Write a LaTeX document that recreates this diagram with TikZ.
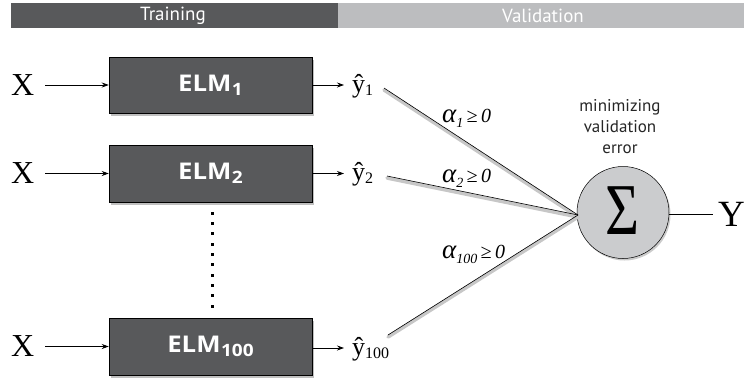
\documentclass[tikz,border=0pt]{standalone}
\usepackage{fontspec}
\setmainfont{Liberation Serif}
\newfontfamily\uisans{Open Sans}
\newfontfamily\barsans{PT Sans}
\usetikzlibrary{shadows,arrows.meta}
\definecolor{elmgray}{HTML}{58595B}
\definecolor{barlight}{HTML}{BCBDBF}
\definecolor{sumgray}{HTML}{CBCCCE}
\newcommand{\elmlab}[1]{\scalebox{1.12}[1]{ELM\kern0.5pt\raisebox{-4pt}{\fontsize{17}{17}\selectfont #1}}}
\newcommand{\yhatlab}[1]{\^{y}\raisebox{-3pt}{\fontsize{16}{16}\selectfont #1}}
\newcommand{\alab}[1]{{\fontsize{27}{27}\selectfont α}\raisebox{-5pt}{\fontsize{14}{14}\selectfont #1}\,≥\,0}
\tikzset{
  elmbox/.style={draw=black, line width=0.5pt, fill=elmgray, minimum width=203pt, minimum height=56.5pt, inner sep=0pt,
    drop shadow={shadow xshift=2pt, shadow yshift=-3pt, fill=black!45, opacity=0.55},
    text=white, font=\uisans\bfseries\fontsize{23}{26}\selectfont},
  xlab/.style={font=\fontsize{32}{33}\selectfont, inner sep=0pt, anchor=base west},
  ylab/.style={font=\fontsize{26}{28}\selectfont, inner sep=0pt, anchor=base west},
  arr/.style={-{Stealth[length=7pt,width=5pt]}, line width=0.8pt},
  shline/.style={line width=0.6pt},
  shadowline/.style={line width=3.5pt, draw=black!22, line cap=round},
  alabel/.style={font=\itshape\fontsize{20}{22}\selectfont, inner sep=0pt, anchor=base west},
  bartext/.style={font=\barsans\fontsize{19}{20}\selectfont, text=white}
}
\begin{document}
\begin{tikzpicture}[x=1pt,y=-1pt]
\useasboundingbox (0,0) rectangle (744,378);
\fill[white] (0,0) rectangle (744,378);
% top bars
\fill[elmgray] (11,3) rectangle (338,28);
\fill[barlight] (338,3) rectangle (744,28);
\node[bartext] (train) at (173,15.5) {Training};
\node[bartext] (valid) at (543,15.5) {Validation};
% ELM boxes
\node[elmbox] (e1) at (210.5,85) {\elmlab{1}};
\node[elmbox] (e2) at (210.5,173.5) {\elmlab{2}};
\node[elmbox] (e3) at (210.5,346.5) {\elmlab{100}};
% X labels
\node[xlab] (x1) at (11,95) {X};
\node[xlab] (x2) at (11,183.5) {X};
\node[xlab] (x3) at (11,356.5) {X};
\coordinate (x1a) at (45,85);
\coordinate (x2a) at (45,173.5);
\coordinate (x3a) at (45,346.5);
\draw[arr] (x1a) -- (e1.west);
\draw[arr] (x2a) -- (e2.west);
\draw[arr] (x3a) -- (e3.west);
% y hats
\node[ylab] (y1) at (352,92) {\yhatlab{1}};
\node[ylab] (y2) at (352,180.5) {\yhatlab{2}};
\node[ylab] (y3) at (352,355) {\yhatlab{100}};
\coordinate (y1a) at (344,85);
\coordinate (y2a) at (344,173.5);
\coordinate (y3a) at (344,348);
\draw[arr] (e1.east) -- (y1a);
\draw[arr] (e2.east) -- (y2a);
\draw[arr] (e3.east |- y3a) -- (y3a);
% dots
\foreach \i in {0,...,9} \fill (210.5,211.5+\i*10.35) rectangle ++(3,3);
% sum node
\node[circle, draw=black, line width=0.5pt, fill=sumgray, minimum size=92pt, inner sep=0pt,
  drop shadow={shadow xshift=1.5pt, shadow yshift=-2pt, fill=black!40, opacity=0.5}] (s) at (623,212.5) {};
\node[font=\fontsize{73}{73}\selectfont, inner sep=0pt] (sig) at (622.5,211) {\scalebox{0.8}[1]{Σ}};
\coordinate (sin) at (578,215);
\coordinate (l1) at (384,88);
\coordinate (l2) at (387,176);
\coordinate (l3) at (388,335);
% shadows of lines
\draw[shadowline] ([yshift=-2pt]l1) -- ([yshift=-2pt]sin);
\draw[shadowline] ([yshift=-2pt]l2) -- ([yshift=-2pt]sin);
\draw[shadowline] ([yshift=-2pt]l3) -- ([yshift=-2pt]sin);
\draw[shline] (l1) -- (sin);
\draw[shline] (l2) -- (sin);
\draw[shline] (l3) -- (sin);
% alpha labels
\node[alabel] (a1) at (442,122) {\alab{1}};
\node[alabel] (a2) at (442,182) {\alab{2}};
\node[alabel] (a3) at (442,258) {\alab{100}};
% caption
\node[font=\barsans\fontsize{17}{21}\selectfont, align=center, text=black!85] (cap) at (620,127) {minimizing\\validation\\error};
% output
\node[font=\fontsize{37}{38}\selectfont, inner sep=0pt, anchor=base west] (Y) at (718,226) {Y};
\coordinate (ya) at (713,214);
\draw[line width=1pt] (s.east |- ya) -- (ya);
\end{tikzpicture}
\end{document}
